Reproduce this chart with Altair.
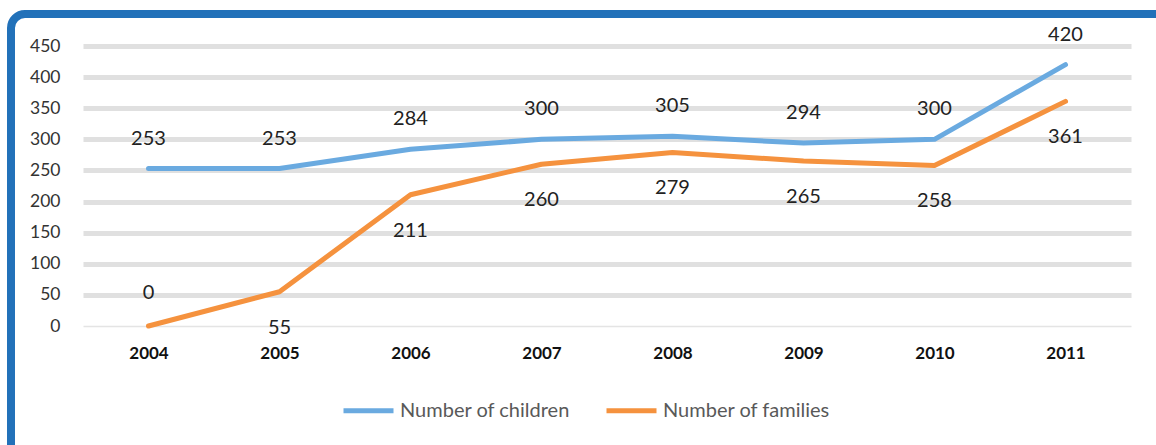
import altair as alt
import pandas as pd

# Yearly counts
years = ["2004", "2005", "2006", "2007", "2008", "2009", "2010", "2011"]
children = [253, 253, 284, 300, 305, 294, 300, 420]
families = [0, 55, 211, 260, 279, 265, 258, 361]
series_names = ["Number of children", "Number of families"]
series_colors = ["#6aaae0", "#f5923e"]
y_ticks = [0, 50, 100, 150, 200, 250, 300, 350, 400, 450]

df = pd.DataFrame({"year": years, series_names[0]: children, series_names[1]: families})
long = df.melt(id_vars="year", var_name="series", value_name="value")

FONT = "Lato"

x_enc = alt.X(
    "year:N",
    sort=years,
    scale=alt.Scale(paddingInner=0, paddingOuter=0.5),
    axis=alt.Axis(
        title=None, labelAngle=0, labelFontWeight="bold", labelFontSize=17,
        labelColor="#111111", labelPadding=19, ticks=False, domain=False,
        grid=False, labelFont=FONT,
    ),
)
y_enc = alt.Y(
    "value:Q",
    scale=alt.Scale(domain=[0, 450], nice=False),
    axis=alt.Axis(
        title=None, values=y_ticks, ticks=False, domain=False,
        labelFontSize=17.5, labelColor="#333333", labelPadding=23, labelFont=FONT,
        grid=True, gridColor={"condition": {"test": "datum.value === 0", "value": "#e4e4e4"}, "value": "#e0e0e0"},
        gridWidth={"condition": {"test": "datum.value === 0", "value": 1.5}, "value": 5},
    ),
)

color_enc = alt.Color(
    "series:N",
    scale=alt.Scale(domain=series_names, range=series_colors),
    legend=alt.Legend(
        title=None, orient="none", direction="horizontal", legendX=258, legendY=337,
        symbolType="stroke", symbolSize=2500, symbolStrokeWidth=5,
        labelFontSize=20, labelColor="#595959", labelFont=FONT, labelLimit=0,
        labelOffset=4, columnPadding=25,
    ),
)

base = alt.Chart(long)

lines = base.mark_line(strokeWidth=5, strokeCap="round", strokeJoin="round").encode(
    x=x_enc, y=y_enc, color=color_enc
)

label_style = dict(fontSize=20, color="#222222", font=FONT, baseline="middle", align="center")

child_labels = base.transform_filter(alt.datum.series == series_names[0]).mark_text(
    dy=-30, **label_style
).encode(x=x_enc, y=y_enc, text="value:Q")

family_labels = base.transform_filter(
    (alt.datum.series == series_names[1]) & (alt.datum.value > 0)
).mark_text(dy=36, **label_style).encode(x=x_enc, y=y_enc, text="value:Q")

family_zero = base.transform_filter(
    (alt.datum.series == series_names[1]) & (alt.datum.value == 0)
).mark_text(dy=-33, **label_style).encode(x=x_enc, y=y_enc, text="value:Q")

# Rounded blue frame around the figure
frame = alt.Chart(pd.DataFrame({"k": [0]})).mark_rect(
    fillOpacity=0, stroke="#2271b9", strokeWidth=8, cornerRadius=14
).encode(
    x=alt.value(-72), x2=alt.value(1200), y=alt.value(-32), y2=alt.value(480)
)

chart = alt.layer(frame, lines, child_labels, family_labels, family_zero).properties(
    width=1048, height=280,
    autosize=alt.AutoSizeParams(type="none"),
    padding={"left": 83, "top": 46, "right": 25, "bottom": 119},
    background="white",
).configure_view(stroke=None)

chart.save("out.html", embed_options={"renderer": "svg", "actions": False})
